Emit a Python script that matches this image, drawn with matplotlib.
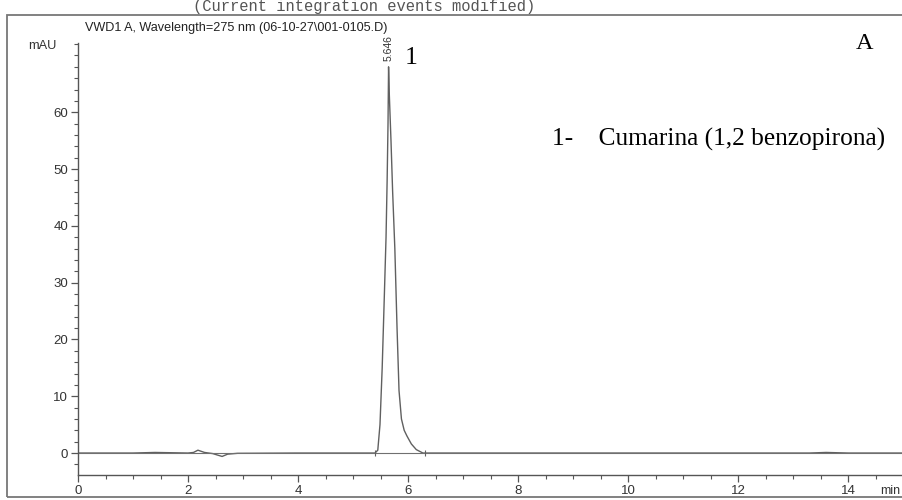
import matplotlib
matplotlib.use("Agg")
import matplotlib.pyplot as plt
from matplotlib.patches import Rectangle
from matplotlib.ticker import MultipleLocator

temps_base = [0.0, 1.0, 1.4, 2.0, 2.1, 2.18, 2.3, 2.45, 2.55, 2.62, 2.72, 2.9, 4.0, 5.3, 5.40]
signal_base = [0.0, 0.0, 0.1, 0.0, 0.1, 0.5, 0.1, -0.1, -0.4, -0.6, -0.2, -0.05, 0.0, 0.0, 0.0]

temps_pic = [5.45, 5.49, 5.53, 5.57, 5.60, 5.62, 5.636, 5.646, 5.66, 5.69, 5.72, 5.76,
             5.80, 5.836, 5.88, 5.93, 5.98, 6.06, 6.15, 6.27]
signal_pic = [0.5, 5.0, 15.0, 28.0, 38.0, 48.0, 58.0, 68.0, 63.0, 55.0, 46.0, 36.0,
              22.0, 11.0, 6.0, 4.0, 3.0, 1.6, 0.6, 0.0]

temps_fin = [6.4, 8.0, 10.0, 12.0, 13.3, 13.6, 14.0, 15.0]
signal_fin = [0.0, 0.0, 0.0, 0.0, 0.0, 0.1, 0.0, 0.0]

marques_integration = [5.40, 6.31]
temps_retention = "5.646"

temps = temps_base + temps_pic + temps_fin
signal = signal_base + signal_pic + signal_fin

W, H = 902, 500
fig = plt.figure(figsize=(W / 100, H / 100), dpi=100)
fig.patch.set_facecolor("white")

# axes: axe y à x=78, axe x à y=475, haut à y=43
ax = fig.add_axes([78 / W, 25 / H, (W - 78) / W, 432 / H])
ax.set_xlim(0, 14.98)
ax.set_ylim(-3.87, 72.2)

couleur = "#555555"
ax.plot(temps, signal, color="#606060", lw=1.0)
ax.axhline(0, color="#707070", lw=0.8)
ax.plot(marques_integration, [0, 0], linestyle="none", marker="|", markersize=5,
        color="#606060", markeredgewidth=0.8)

for s in ["top", "right"]:
    ax.spines[s].set_visible(False)
for s in ["left", "bottom"]:
    ax.spines[s].set_color(couleur)
    ax.spines[s].set_linewidth(1.0)

ax.xaxis.set_major_locator(MultipleLocator(2))
ax.xaxis.set_minor_locator(MultipleLocator(0.5))
ax.yaxis.set_major_locator(MultipleLocator(10))
ax.yaxis.set_minor_locator(MultipleLocator(2))
ax.set_yticks([0, 10, 20, 30, 40, 50, 60])
ax.tick_params(axis="both", which="major", direction="out", length=5, width=0.9,
               color=couleur, labelsize=9.5, labelcolor="#333333", pad=2)
ax.tick_params(axis="both", which="minor", direction="out", length=3, width=0.8,
               color=couleur)
for lab in ax.get_xticklabels() + ax.get_yticklabels():
    lab.set_fontfamily("Liberation Sans")

# --- textes ---
ax.text(float(temps_retention), 69, temps_retention, rotation=90, ha="center", va="bottom",
        fontsize=7.5, color="#333333", family="Liberation Sans")
fig.text(405 / W, 1 - 64 / H, "1", fontsize=18.5, family="Liberation Serif", color="black")
fig.text(856 / W, 1 - 49 / H, "A", fontsize=17.5, family="Liberation Serif", color="black")
fig.text(552 / W, 1 - 146 / H, "1-    Cumarina (1,2 benzopirona)", fontsize=18.3,
         family="Liberation Serif", color="black")

fig.text(42 / W, 1 - 46 / H, "mAU", fontsize=9.2, ha="center", va="center",
         family="Liberation Sans", color="#333333")
fig.text(85 / W, 1 - 31 / H, "VWD1 A, Wavelength=275 nm (06-10-27\\001-0105.D)",
         fontsize=9.1, family="Liberation Sans", color="#222222")
fig.text(364 / W, 1 - 11.5 / H, "(Current integration events modified)", fontsize=11.2,
         ha="center", va="baseline", family="Liberation Mono", color="#555555")
fig.text(880 / W, 1 - 494 / H, "min", fontsize=9, family="Liberation Sans",
         color="#333333")

# cadre extérieur
fig.patches.append(Rectangle((7 / W, 3 / H), 1.2, (497 - 15) / H, transform=fig.transFigure,
                             fill=False, edgecolor="#777777", lw=1.3))

fig.savefig("out.png", dpi=100)
